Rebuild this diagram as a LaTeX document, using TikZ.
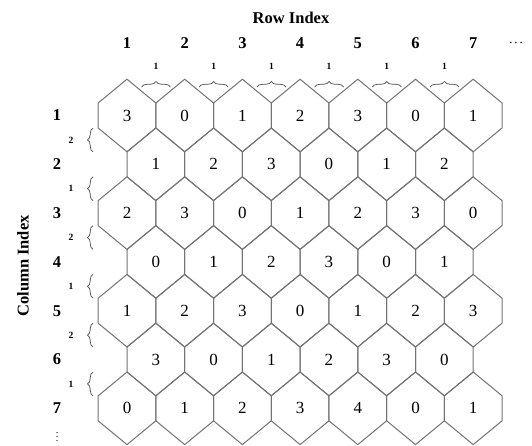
\documentclass[tikz,border=0pt]{standalone}
\usepackage{fontspec}
\setmainfont{Liberation Serif}
\usetikzlibrary{decorations.pathreplacing}
\tikzset{
  hexline/.style={draw=black!55,line width=1pt},
  cellnum/.style={font=\fontsize{17}{17}\selectfont},
  idxnum/.style={font=\fontsize{16.5}{16.5}\selectfont\bfseries},
  gapnum/.style={font=\fontsize{9.5}{9.5}\selectfont\bfseries},
  gapbrace/.style={draw=black!70,line width=.7pt,decorate,decoration={brace,amplitude=5.5pt}},
}
% one hexagon cell: x, y, value
\newcommand\hexcell[4]{%
  \draw[hexline] (#1,#2) +(0,-36.3) -- +(28.85,-12.5) -- +(28.85,12.5)
    -- +(0,36.3) -- +(-28.85,12.5) -- +(-28.85,-12.5) -- cycle;
  \node[cellnum] (#4) at (#1,#2) {#3};}
\begin{document}
\begin{tikzpicture}[x=1pt,y=-1pt]
  \useasboundingbox (0,0) rectangle (532,445);
  % cells
  \foreach \r/\vals in {1/{3,0,1,2,3,0,1},2/{1,2,3,0,1,2},3/{2,3,0,1,2,3,0},
      4/{0,1,2,3,0,1},5/{1,2,3,0,1,2,3},6/{3,0,1,2,3,0},7/{0,1,2,3,4,0,1}}{
    \foreach \v [count=\i] in \vals {
      \pgfmathsetmacro\cx{127+28.85*mod(\r+1,2)+57.7*(\i-1)}
      \pgfmathsetmacro\cy{115.5+48.8*(\r-1)}
      \hexcell{\cx}{\cy}{\v}{c\r-\i}
    }
  }
  % row index on top
  \node[idxnum] (rowtitle) at (291,18) {Row Index};
  \foreach \i in {1,...,7}
    \node[idxnum] (top\i) at (127+57.7*\i-57.7,43.5) {\i};
  \node[font=\boldmath] (topdots) at (516,43.5) {\(\cdots\)};
  \foreach \k in {1,...,6}{
    \draw[gapbrace] (141.5+57.7*\k-57.7,87) -- (170.5+57.7*\k-57.7,87);
    \node[gapnum] (topgap\k) at (156+57.7*\k-57.7,66) {1};
  }
  % column index on the left
  \node[idxnum,rotate=90] (coltitle) at (23,266) {Column Index};
  \foreach \j in {1,...,7}
    \node[idxnum] (left\j) at (57,115.5+48.8*\j-48.8) {\j};
  \node[font=\boldmath,inner sep=0pt] (leftdots) at (57,434) {\(\vdots\)};
  \foreach \j/\g in {1/2,2/1,3/2,4/1,5/2,6/1}{
    \draw[gapbrace] (93,115.5+48.8*\j-12.5) -- (93,115.5+48.8*\j-48.8+12.5);
    \node[gapnum] (leftgap\j) at (71,115.5+48.8*\j-24.4) {\g};
  }
\end{tikzpicture}
\end{document}
